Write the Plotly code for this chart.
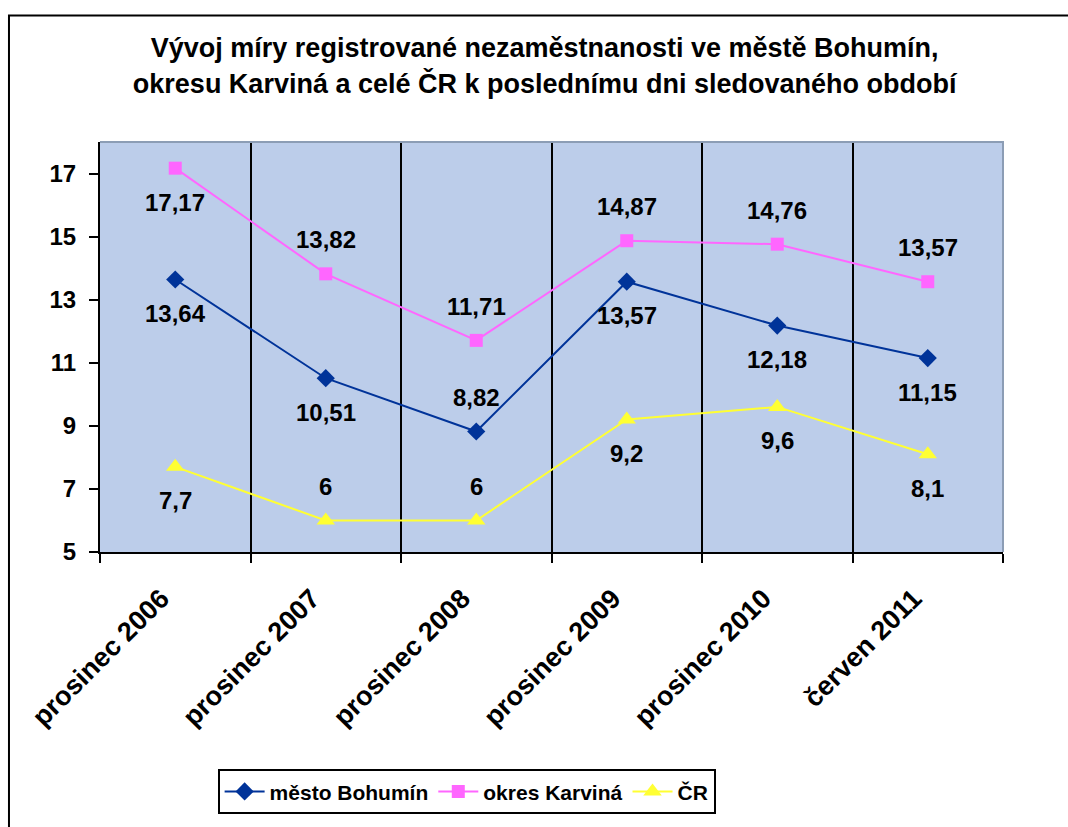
import plotly.graph_objects as go

periods = ["prosinec 2006", "prosinec 2007", "prosinec 2008",
           "prosinec 2009", "prosinec 2010", "červen 2011"]
bohumin = [13.64, 10.51, 8.82, 13.57, 12.18, 11.15]
karvina = [17.17, 13.82, 11.71, 14.87, 14.76, 13.57]
cr = [7.7, 6, 6, 9.2, 9.6, 8.1]

# label placement: -1 below the point, +1 above
bohumin_pos = [-1, -1, 1, -1, -1, -1]
karvina_pos = [-1, 1, 1, 1, 1, 1]
cr_pos = [-1, 1, 1, -1, -1, -1]

FONT = "Liberation Sans, Arial, sans-serif"


def fmt(v):
    return f"{v:g}".replace(".", ",")


fig = go.Figure()
series = [
    ("město Bohumín", bohumin, bohumin_pos, "#003399", "diamond", 14),
    ("okres Karviná", karvina, karvina_pos, "#FF66FF", "square", 13),
    ("ČR", cr, cr_pos, "#FFFF33", "triangle-up", 16),
]
for name, vals, pos, color, symbol, size in series:
    fig.add_trace(go.Scatter(
        x=periods, y=vals, name=name, mode="lines+markers",
        line=dict(color=color, width=2),
        marker=dict(symbol=symbol, size=size, color=color),
    ))
    for p, v, s in zip(periods, vals, pos):
        fig.add_annotation(x=p, y=v, text=fmt(v), showarrow=False,
                           yshift=34 * s,
                           font=dict(family=FONT, size=24, color="black", weight="bold"))

# outer frame and grey top/right border of plot area
fig.add_shape(type="rect", xref="paper", yref="paper",
              x0=-0.1008, x1=1.2, y0=-1.0, y1=1.3088,
              line=dict(color="black", width=2), layer="below")
fig.add_shape(type="path", xref="paper", yref="paper",
              path="M0,1 L1,1 L1,0", line=dict(color="#8C9DB5", width=2),
              layer="above")

fig.update_layout(
    width=1068, height=827,
    margin=dict(l=100, r=65, t=142, b=263),
    paper_bgcolor="white",
    plot_bgcolor="#BCCDEA",
    font=dict(family=FONT, color="black"),
    title=dict(
        text="Vývoj míry registrované nezaměstnanosti ve městě Bohumín,<br>"
             "okresu Karviná a celé ČR k poslednímu dni sledovaného období",
        x=0.51, xanchor="center", xref="container",
        y=0.9305, yanchor="top", yref="container",
        font=dict(family=FONT, size=27, weight="bold"),
    ),
    xaxis=dict(
        type="category", range=[-0.5, 5.5], tickson="boundaries",
        automargin=False,
        showgrid=True, gridcolor="black", gridwidth=2,
        showline=True, linecolor="black", linewidth=2,
        ticks="outside", ticklen=9, tickwidth=2, tickcolor="black",
        tickangle=-45, ticklabelshift=-14, ticklabelstandoff=18,
        tickfont=dict(family=FONT, size=27, weight="bold"),
    ),
    yaxis=dict(
        range=[5, 18], tick0=5, dtick=2, showgrid=False, zeroline=False,
        automargin=False,
        showline=True, linecolor="black", linewidth=2,
        ticks="outside", ticklen=9, tickwidth=2, tickcolor="black",
        ticklabelstandoff=8,
        tickfont=dict(family=FONT, size=24, weight="bold"),
    ),
    legend=dict(
        orientation="h", x=0.406, xanchor="center", y=-0.53, yanchor="top",
        bordercolor="black", borderwidth=2, bgcolor="white",
        font=dict(family=FONT, size=21, weight="bold"),
        itemwidth=40,
    ),
)

fig.write_html(
    "out.html",
    config={"displayModeBar": False},
    post_script="document.body.style.margin='0';document.body.style.overflow='hidden';",
)
